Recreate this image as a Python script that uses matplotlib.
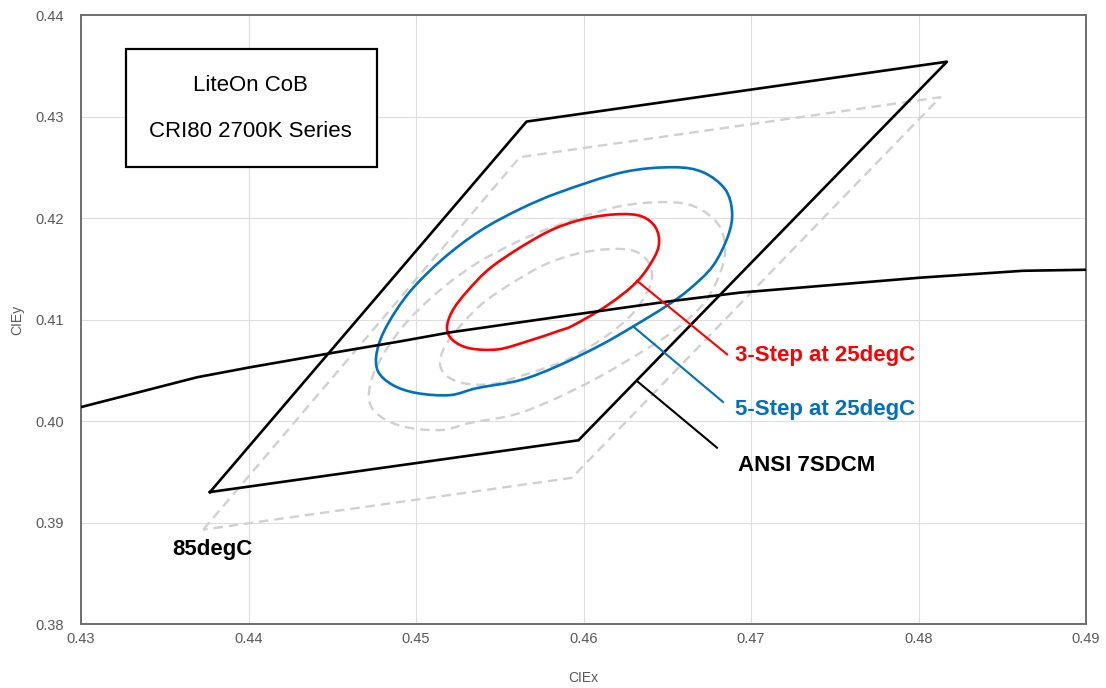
import matplotlib
matplotlib.use("Agg")
import matplotlib.pyplot as plt
from matplotlib.patches import Rectangle, PathPatch
from matplotlib.path import Path
import numpy as np

plt.rcParams['font.family'] = ['Liberation Sans', 'DejaVu Sans']

# ---------------- data (CIE x, y) ----------------
# ANSI 7-step quadrangle at 25degC (black)
ansi_x = [0.4377, 0.4566, 0.4817, 0.4597]
ansi_y = [0.3930, 0.4295, 0.4354, 0.3981]

# quadrangle at 85degC (grey dashed)
ansi85_x = [0.4373, 0.4562, 0.4813, 0.4593]
ansi85_y = [0.3893, 0.4260, 0.4319, 0.3944]

# black-body locus
bbl_x = [0.43000, 0.43693, 0.44009, 0.44487, 0.44904, 0.45203, 0.45860,
         0.46499, 0.46934, 0.48009, 0.48624, 0.49000]
bbl_y = [0.40137, 0.40431, 0.40529, 0.40667, 0.40784, 0.40873, 0.41029,
         0.41176, 0.41265, 0.41412, 0.41480, 0.41490]

# 3-step ellipse at 25degC (red)
s3_x = [0.45185, 0.45221, 0.45322, 0.45490, 0.45663, 0.45860, 0.45937,
        0.46140, 0.46319, 0.46427, 0.46451, 0.46415, 0.46319, 0.46140,
        0.45937, 0.45740, 0.45460, 0.45304, 0.45215]
s3_y = [0.40912, 0.40794, 0.40716, 0.40706, 0.40784, 0.40892, 0.40941,
        0.41137, 0.41373, 0.41627, 0.41794, 0.41941, 0.42029, 0.42029,
        0.41961, 0.41824, 0.41529, 0.41275, 0.41078]

# 5-step ellipse at 25degC (blue)
s5_x = [0.44767, 0.44773, 0.44863, 0.45006, 0.45203, 0.45364, 0.45621,
        0.45842, 0.46099, 0.46296, 0.46499, 0.46636, 0.46773, 0.46863,
        0.46887, 0.46845, 0.46713, 0.46534, 0.46236, 0.45860, 0.45621,
        0.45382, 0.45161, 0.44964, 0.44827]
s5_y = [0.40686, 0.40490, 0.40353, 0.40275, 0.40255, 0.40324, 0.40402,
        0.40539, 0.40745, 0.40931, 0.41137, 0.41304, 0.41529, 0.41824,
        0.42059, 0.42284, 0.42451, 0.42500, 0.42451, 0.42255, 0.42088,
        0.41873, 0.41598, 0.41275, 0.40941]

# 3-step ellipse at 85degC (grey dashed)
s3h_x = [0.45143, 0.45179, 0.45280, 0.45448, 0.45621, 0.45818, 0.45895,
         0.46098, 0.46277, 0.46385, 0.46409, 0.46373, 0.46277, 0.46098,
         0.45895, 0.45698, 0.45418, 0.45262, 0.45173]
s3h_y = [0.40569, 0.40451, 0.40373, 0.40363, 0.40441, 0.40549, 0.40598,
         0.40794, 0.41030, 0.41284, 0.41451, 0.41598, 0.41686, 0.41686,
         0.41618, 0.41481, 0.41186, 0.40932, 0.40735]

# 5-step ellipse at 85degC (grey dashed)
s5h_x = [0.44725, 0.44731, 0.44821, 0.44964, 0.45161, 0.45322, 0.45579,
         0.45800, 0.46057, 0.46254, 0.46457, 0.46594, 0.46731, 0.46821,
         0.46845, 0.46803, 0.46671, 0.46492, 0.46194, 0.45818, 0.45579,
         0.45340, 0.45119, 0.44922, 0.44785]
s5h_y = [0.40343, 0.40147, 0.40010, 0.39932, 0.39912, 0.39981, 0.40059,
         0.40196, 0.40402, 0.40588, 0.40794, 0.40961, 0.41186, 0.41481,
         0.41716, 0.41941, 0.42108, 0.42157, 0.42108, 0.41912, 0.41745,
         0.41530, 0.41255, 0.40932, 0.40598]

x_ticks = [0.43, 0.44, 0.45, 0.46, 0.47, 0.48, 0.49]
y_ticks = [0.38, 0.39, 0.40, 0.41, 0.42, 0.43, 0.44]
x_ticklabels = ["0.43", "0.44", "0.45", "0.46", "0.47", "0.48", "0.49"]
y_ticklabels = ["0.38", "0.39", "0.40", "0.41", "0.42", "0.43", "0.44"]

RED = "#FF0000"
BLUE = "#0070C0"
GREY = "#D0D0D0"


def closed(a):
    return list(a) + [a[0]]


def smooth_closed_path(xs, ys):
    """Closed smoothed (Excel-like) curve through the data points, drawn
    as cubic Bezier segments (Catmull-Rom control points)."""
    P = np.column_stack([xs, ys])
    n = len(P)
    verts = [P[0]]
    codes = [Path.MOVETO]
    for i in range(n):
        p0, p1, p2, p3 = P[i - 1], P[i], P[(i + 1) % n], P[(i + 2) % n]
        c1 = p1 + (p2 - p0) / 6.0
        c2 = p2 - (p3 - p1) / 6.0
        verts += [c1, c2, p2]
        codes += [Path.CURVE4] * 3
    return Path(np.array(verts), codes)


fig = plt.figure(figsize=(11.06, 6.88), dpi=100)
ax = fig.add_axes([81 / 1106, 64 / 688, 1005 / 1106, 609 / 688])
ax.set_xlim(0.43, 0.49)
ax.set_ylim(0.38, 0.44)

ax.set_xticks(x_ticks)
ax.set_yticks(y_ticks)
ax.set_xticklabels(x_ticklabels)
ax.set_yticklabels(y_ticklabels)
ax.grid(True, color="#DEDEDE", lw=0.8)
ax.set_axisbelow(True)
ax.tick_params(length=0, labelsize=10.5, labelcolor="#595959")
ax.tick_params(axis="y", pad=12)
ax.tick_params(axis="x", pad=6)
for s in ax.spines.values():
    s.set_color("#6E6E6E")
    s.set_linewidth(1.4)

ax.set_xlabel("CIEx", fontsize=10, color="#595959", labelpad=17.5)
ax.set_ylabel("CIEy", fontsize=10, color="#595959", labelpad=8)

dash = (0, (4, 2.5))
# 85degC grey dashed
ax.plot(closed(ansi85_x), closed(ansi85_y), color=GREY, lw=1.7, ls=dash, zorder=2)
for xs, ys in [(s5h_x, s5h_y), (s3h_x, s3h_y)]:
    ax.add_patch(PathPatch(smooth_closed_path(xs, ys), facecolor="none",
                           edgecolor=GREY, lw=1.7, ls=dash, zorder=2))

# 25degC
ax.add_patch(PathPatch(smooth_closed_path(s5_x, s5_y), facecolor="none",
                       edgecolor=BLUE, lw=1.9, zorder=3))
ax.add_patch(PathPatch(smooth_closed_path(s3_x, s3_y), facecolor="none",
                       edgecolor=RED, lw=1.9, zorder=3))
ax.plot(closed(ansi_x), closed(ansi_y), color="black", lw=1.9, zorder=4)
ax.plot(bbl_x, bbl_y, color="black", lw=1.9, zorder=4)

# leader lines and labels
ax.plot([0.46319, 0.46857], [0.41382, 0.40657], color=RED, lw=1.5, zorder=5)
ax.plot([0.46296, 0.46833], [0.40932, 0.40187], color=BLUE, lw=1.5, zorder=5)
ax.plot([0.46319, 0.46797], [0.40394, 0.39737], color="black", lw=1.5, zorder=5)

lab_kw = dict(fontsize=16, fontweight="bold", ha="left", va="center", zorder=6)
ax.text(0.46905, 0.40647, "3-Step at 25degC", color=RED, **lab_kw)
ax.text(0.46905, 0.40118, "5-Step at 25degC", color=BLUE, **lab_kw)
ax.text(0.46922, 0.39559, "ANSI 7SDCM", color="black", **lab_kw)
ax.text(0.43543, 0.38737, "85degC", color="black", **lab_kw)

# title box
ax.add_patch(Rectangle((0.0448, 0.7504), 0.2497, 0.1938, transform=ax.transAxes,
                       facecolor="white", edgecolor="black", lw=1.6, zorder=7))
ax.text(0.169, 0.885, "LiteOn CoB", transform=ax.transAxes, fontsize=16,
        ha="center", va="center", zorder=8)
ax.text(0.169, 0.808, "CRI80 2700K Series", transform=ax.transAxes, fontsize=16,
        ha="center", va="center", zorder=8)

fig.savefig("out.png", dpi=100, facecolor="white")
